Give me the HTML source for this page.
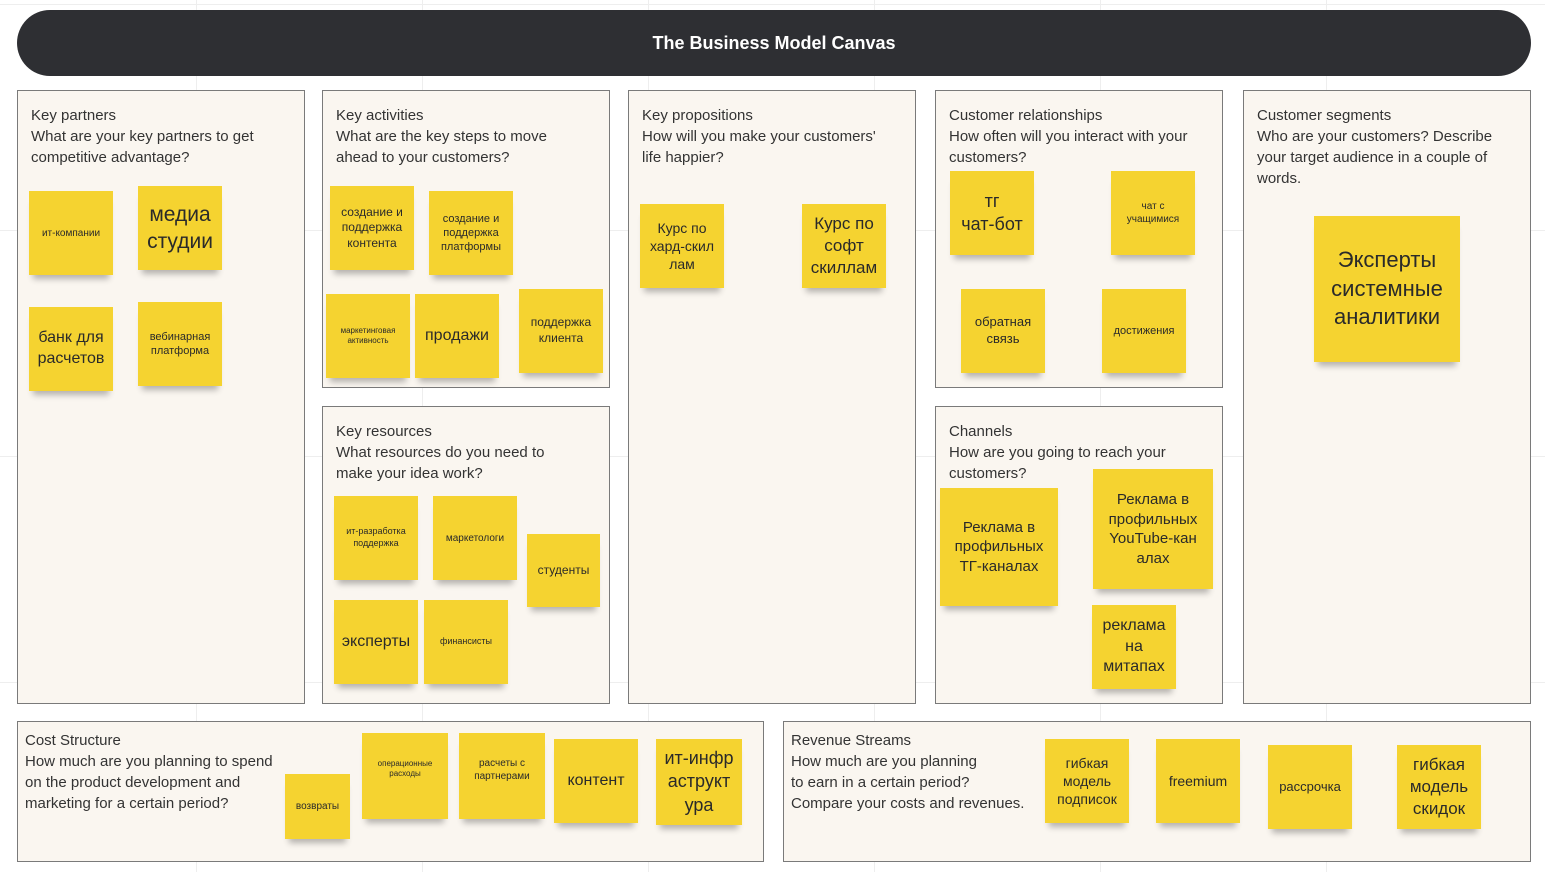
<!DOCTYPE html>
<html><head><meta charset="utf-8"><style>
body{margin:0;width:1545px;height:872px;position:relative;background:#fff;font-family:"Liberation Sans","DejaVu Sans",sans-serif;overflow:hidden;
background-image:linear-gradient(#eee 1px,transparent 1px),linear-gradient(90deg,#eee 1px,transparent 1px);background-size:226px 226px;background-position:-30px -222px}
.hdr{position:absolute;left:17px;top:10px;width:1514px;height:66px;border-radius:33px;background:#2e2f33;color:#fff;font-weight:bold;font-size:18px;text-align:center;line-height:66px}
.p{position:absolute;background:#faf6f0;border:1px solid #7a7a7a;box-sizing:border-box;padding:14px 13px;font-size:15px;line-height:21px;color:#333;white-space:nowrap}
.s{position:absolute;background:#f5d330;display:flex;align-items:center;justify-content:center;text-align:center;color:#2a2a2a;line-height:1.3;box-shadow:0 8px 6px -4px rgba(0,0,0,0.28);box-sizing:border-box;padding:4px}
</style></head><body>
<div class="hdr">The Business Model Canvas</div>
<div class="p" style="left:17px;top:90px;width:288px;height:614px">Key partners<br>What are your key partners to get<br>competitive advantage?</div>
<div class="p" style="left:322px;top:90px;width:288px;height:298px">Key activities<br>What are the key steps to move<br>ahead to your customers?</div>
<div class="p" style="left:322px;top:406px;width:288px;height:298px">Key resources<br>What resources do you need to<br>make your idea work?</div>
<div class="p" style="left:628px;top:90px;width:288px;height:614px">Key propositions<br>How will you make your customers'<br>life happier?</div>
<div class="p" style="left:935px;top:90px;width:288px;height:298px">Customer relationships<br>How often will you interact with your<br>customers?</div>
<div class="p" style="left:935px;top:406px;width:288px;height:298px">Channels<br>How are you going to reach your<br>customers?</div>
<div class="p" style="left:1243px;top:90px;width:288px;height:614px">Customer segments<br>Who are your customers? Describe<br>your target audience in a couple of<br>words.</div>
<div class="p" style="left:17px;top:721px;width:747px;height:141px;padding:8px 7px">Cost Structure<br>How much are you planning to spend<br>on the product development and<br>marketing for a certain period?</div>
<div class="p" style="left:783px;top:721px;width:748px;height:141px;padding:8px 7px">Revenue Streams<br>How much are you planning<br>to earn in a certain period?<br>Compare your costs and revenues.</div>

<div class="s" style="left:29px;top:191px;width:84px;height:84px;font-size:10px">ит-компании</div>
<div class="s" style="left:138px;top:186px;width:84px;height:84px;font-size:21px">медиа студии</div>
<div class="s" style="left:29px;top:307px;width:84px;height:84px;font-size:16px">банк для расчетов</div>
<div class="s" style="left:138px;top:302px;width:84px;height:84px;font-size:11px">вебинарная платформа</div>

<div class="s" style="left:330px;top:186px;width:84px;height:84px;font-size:12px">создание и поддержка контента</div>
<div class="s" style="left:429px;top:191px;width:84px;height:84px;font-size:11px">создание и поддержка платформы</div>
<div class="s" style="left:326px;top:294px;width:84px;height:84px;font-size:8px">маркетинговая активность</div>
<div class="s" style="left:415px;top:294px;width:84px;height:84px;font-size:16px">продажи</div>
<div class="s" style="left:519px;top:289px;width:84px;height:84px;font-size:12px">поддержка клиента</div>

<div class="s" style="left:334px;top:496px;width:84px;height:84px;font-size:9px">ит-разработка поддержка</div>
<div class="s" style="left:433px;top:496px;width:84px;height:84px;font-size:10px">маркетологи</div>
<div class="s" style="left:527px;top:534px;width:73px;height:73px;font-size:12px">студенты</div>
<div class="s" style="left:334px;top:600px;width:84px;height:84px;font-size:16px">эксперты</div>
<div class="s" style="left:424px;top:600px;width:84px;height:84px;font-size:9px">финансисты</div>

<div class="s" style="left:640px;top:204px;width:84px;height:84px;font-size:14px">Курс по хард-скил лам</div>
<div class="s" style="left:802px;top:204px;width:84px;height:84px;font-size:17px">Курс по софт скиллам</div>

<div class="s" style="left:950px;top:171px;width:84px;height:84px;font-size:18px">тг<br>чат-бот</div>
<div class="s" style="left:1111px;top:171px;width:84px;height:84px;font-size:10px">чат с учащимися</div>
<div class="s" style="left:961px;top:289px;width:84px;height:84px;font-size:13px">обратная связь</div>
<div class="s" style="left:1102px;top:289px;width:84px;height:84px;font-size:11px">достижения</div>

<div class="s" style="left:940px;top:488px;width:118px;height:118px;font-size:15px">Реклама в профильных ТГ-каналах</div>
<div class="s" style="left:1093px;top:469px;width:120px;height:120px;font-size:15px">Реклама в профильных YouTube-кан алах</div>
<div class="s" style="left:1092px;top:605px;width:84px;height:84px;font-size:16px">реклама на митапах</div>

<div class="s" style="left:1314px;top:216px;width:146px;height:146px;font-size:22px">Эксперты системные аналитики</div>

<div class="s" style="left:285px;top:774px;width:65px;height:65px;font-size:10px">возвраты</div>
<div class="s" style="left:362px;top:733px;width:86px;height:86px;font-size:8px;align-items:flex-start;padding-top:26px">операционные расходы</div>
<div class="s" style="left:459px;top:733px;width:86px;height:86px;font-size:10px;align-items:flex-start;padding-top:24px">расчеты с партнерами</div>
<div class="s" style="left:554px;top:739px;width:84px;height:84px;font-size:16px">контент</div>
<div class="s" style="left:656px;top:739px;width:86px;height:86px;font-size:18px">ит-инфр аструкт ура</div>

<div class="s" style="left:1045px;top:739px;width:84px;height:84px;font-size:14px">гибкая модель подписок</div>
<div class="s" style="left:1156px;top:739px;width:84px;height:84px;font-size:14px">freemium</div>
<div class="s" style="left:1268px;top:745px;width:84px;height:84px;font-size:13px">рассрочка</div>
<div class="s" style="left:1397px;top:745px;width:84px;height:84px;font-size:17px">гибкая модель скидок</div>
</body></html>
